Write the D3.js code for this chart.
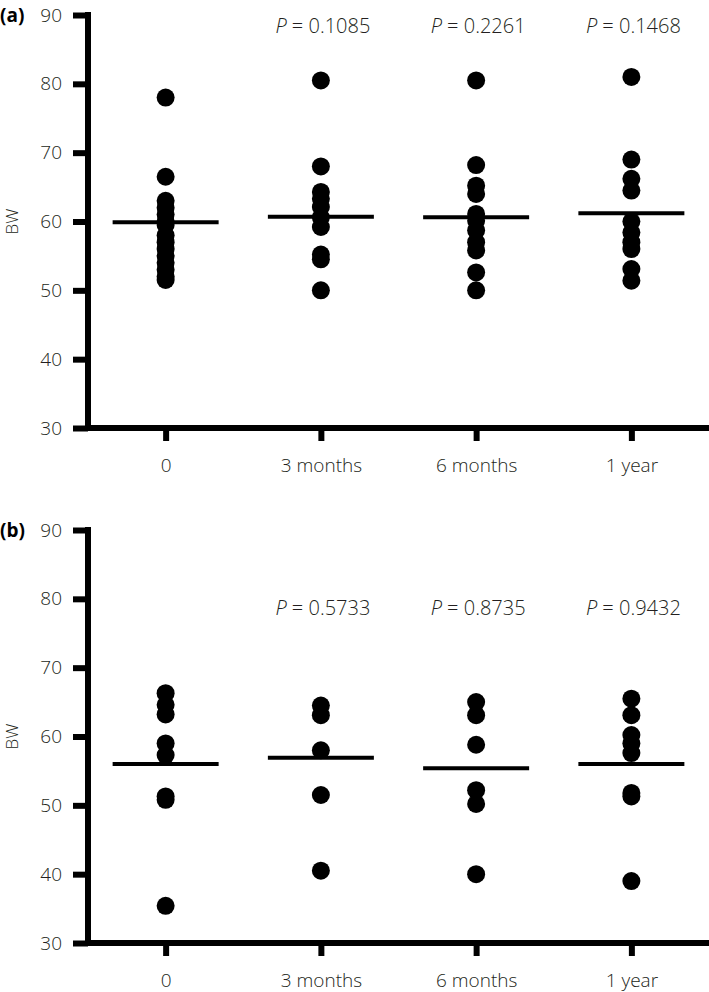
<!DOCTYPE html>
<html><head><meta charset="utf-8">
<script src="https://cdn.jsdelivr.net/npm/d3@7"></script>
<style>
body{margin:0;background:#fff;}
text{font-family:"Open Sans","DejaVu Sans",sans-serif;}
</style></head>
<body><svg id="c" width="709" height="992"></svg>
<script>
const categories = ["0", "3 months", "6 months", "1 year"];
const yTicks = [30, 40, 50, 60, 70, 80, 90];

// Panel (a)
const bwA_0  = [78, 66.5, 63, 62, 61, 60, 59.5, 58, 57, 56, 55, 54, 53, 52, 51.5];
const bwA_3m = [80.5, 68, 64.3, 63.3, 62.1, 60.6, 59.2, 55.2, 54.5, 50];
const bwA_6m = [80.5, 68.2, 65.2, 64, 61.1, 60.1, 58.7, 57, 55.8, 52.6, 50];
const bwA_1y = [81, 69, 66.2, 64.5, 60, 58.4, 57, 56, 53.1, 51.4];
const meansA = [59.9, 60.7, 60.6, 61.2];
const pA = [null, "0.1085", "0.2261", "0.1468"];

// Panel (b)
const bwB_0  = [66.3, 64.6, 63.2, 59, 57.3, 51.3, 50.8, 35.4];
const bwB_3m = [64.5, 63.1, 58, 51.5, 40.5];
const bwB_6m = [65, 63.1, 58.8, 52.2, 50.2, 40];
const bwB_1y = [65.5, 63.1, 60.2, 59, 57.6, 51.8, 51.3, 39];
const meansB = [56.0, 56.9, 55.4, 56.0];
const pB = [null, "0.5733", "0.8735", "0.9432"];

const svg = d3.select("#c");
const axisX = 88, rightX = 709;
const x = d3.scalePoint().domain(categories).range([axisX, rightX]).padding(0.5);
const textCol = "#231f20";

function panel(top, bottom, label, series, means, pvals, pOffset) {
  const g = svg.append("g");
  const y = d3.scaleLinear().domain([30, 90]).range([bottom, top]);

  // y axis
  const ya = g.append("g").attr("transform", `translate(${axisX},0)`)
    .call(d3.axisLeft(y).tickValues(yTicks).tickSize(15).tickSizeOuter(0).tickPadding(11));
  ya.select(".domain").attr("stroke", "#000").attr("stroke-width", 6)
    .attr("d", `M0,${top - 3}V${bottom + 3}`);
  ya.selectAll(".tick line").attr("stroke", "#000").attr("stroke-width", 6);
  ya.selectAll(".tick text").attr("fill", textCol).style("font-size", "19px").style("font-weight", 300);

  // x axis
  const xa = g.append("g").attr("transform", `translate(0,${bottom})`)
    .call(d3.axisBottom(x).tickSize(13).tickSizeOuter(0).tickPadding(18));
  xa.select(".domain").attr("stroke", "#000").attr("stroke-width", 6)
    .attr("d", `M${axisX - 3},0H${rightX}`);
  xa.selectAll(".tick line").attr("stroke", "#000").attr("stroke-width", 6);
  xa.selectAll(".tick text").attr("fill", textCol).style("font-size", "19px").style("font-weight", 300);

  // BW label
  g.append("text").attr("transform", `translate(18,${(top + bottom) / 2}) rotate(-90)`)
    .attr("text-anchor", "middle").attr("fill", textCol)
    .style("font-size", "17px").style("font-weight", 300).text("BW");

  // panel label
  g.append("text").attr("x", 0).attr("y", top + 7).attr("fill", "#000")
    .style("font-size", "19px").style("font-weight", 700).text(label);

  // dots
  series.forEach((vals, i) => {
    g.append("g").selectAll("circle").data(vals).join("circle")
      .attr("cx", x(categories[i])).attr("cy", d => y(d)).attr("r", 9).attr("fill", "#000");
  });

  // mean lines
  g.append("g").selectAll("line").data(means).join("line")
    .attr("x1", (d, i) => x(categories[i]) - 53).attr("x2", (d, i) => x(categories[i]) + 53)
    .attr("y1", d => y(d)).attr("y2", d => y(d))
    .attr("stroke", "#000").attr("stroke-width", 4);

  // P values
  pvals.forEach((p, i) => {
    if (!p) return;
    const t = g.append("text").attr("x", x(categories[i]) + 2).attr("y", top + pOffset)
      .attr("text-anchor", "middle").attr("fill", textCol)
      .style("font-size", "20px").style("font-weight", 300);
    t.append("tspan").style("font-style", "italic").text("P");
    t.append("tspan").text(" = " + p);
  });
}

panel(15, 428, "(a)", [bwA_0, bwA_3m, bwA_6m, bwA_1y], meansA, pA, 18);
panel(530, 943, "(b)", [bwB_0, bwB_3m, bwB_6m, bwB_1y], meansB, pB, 85);
</script></body></html>
